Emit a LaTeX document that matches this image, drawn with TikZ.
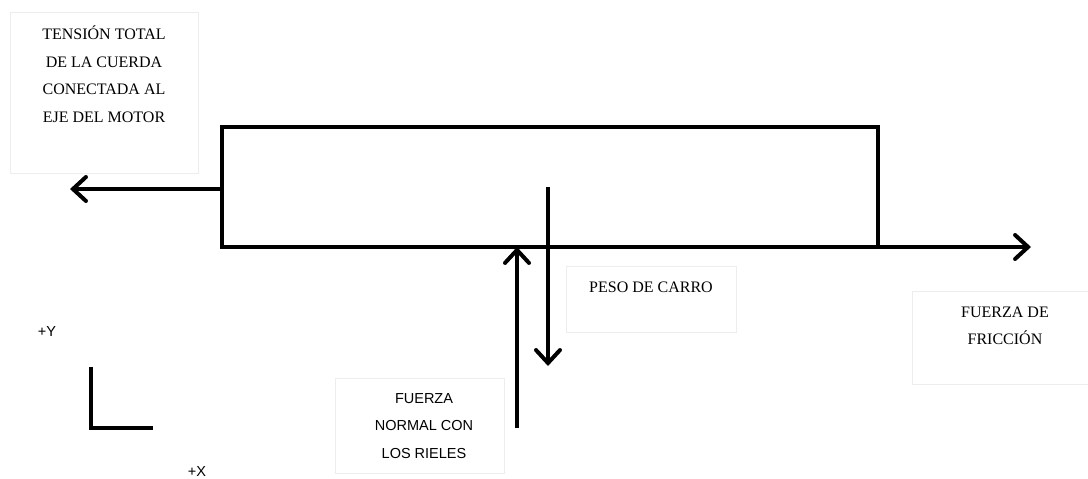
\documentclass[tikz,border=0pt]{standalone}
\usepackage{fontspec}
\setmainfont{Liberation Serif}
\setsansfont{Liberation Sans}
\usetikzlibrary{arrows.meta}
\begin{document}
\begin{tikzpicture}[x=1pt,y=-1pt,
  lbox/.style={draw=black!7,line width=1pt,inner sep=0pt,anchor=north west},
  serif/.style={font=\fontsize{16}{27.5}\selectfont\rmfamily,align=center,inner sep=0pt},
  sans/.style={font=\fontsize{14.5}{27.5}\selectfont\sffamily,align=center,inner sep=0pt},
  force/.style={line width=4pt,-{Straight Barb[length=13pt,width=24pt,line cap=round]}},
  body/.style={draw,line width=4pt,inner sep=0pt,outer sep=0pt,anchor=north west}]
\useasboundingbox (0,0) rectangle (1088,479);
% label boxes
\node[lbox,minimum width=188pt,minimum height=161pt] (bt) at (10,12) {};
\node[lbox,minimum width=169pt,minimum height=95pt] (bn) at (335,378) {};
\node[lbox,minimum width=170pt,minimum height=66pt] (bp) at (566,266) {};
\node[lbox,minimum width=180pt,minimum height=93pt] (bf) at (912,291) {};
% texts
\node[serif] (tt) at (104,74) {TENSIÓN TOTAL\\DE LA CUERDA\\CONECTADA AL\\EJE DEL MOTOR};
\node[serif] (tp) at (651,287) {PESO DE CARRO};
\node[serif] (tf) at (1005,326) {FUERZA DE\\FRICCIÓN};
\node[sans] (tn) at (424,426) {FUERZA\\NORMAL CON\\LOS RIELES};
\node[sans] (ty) at (47,332) {+Y};
\node[sans] (tx) at (197,472) {+X};
% body
\node[body,minimum width=656pt,minimum height=120pt] (car) at (222,127) {};
% force arrows
\coordinate (tl) at (70,189);
\coordinate (tr) at (1031,247);
\coordinate (nb) at (517,428);
\coordinate (wt) at (548,187);
\coordinate (wb) at (548,366);
\draw[force] (car.west |- tl) -- (tl);
\draw[force] (car.south east) -- (tr);
\draw[force] (nb) -- (nb |- car.south);
\draw[force] (wt) -- (wb);
% axes
\coordinate (ao) at (91,428);
\coordinate (ay) at (91,367);
\coordinate (ax) at (153,428);
\draw[line width=4pt] (ay) -- (ao) -- (ax);
\end{tikzpicture}
\end{document}
